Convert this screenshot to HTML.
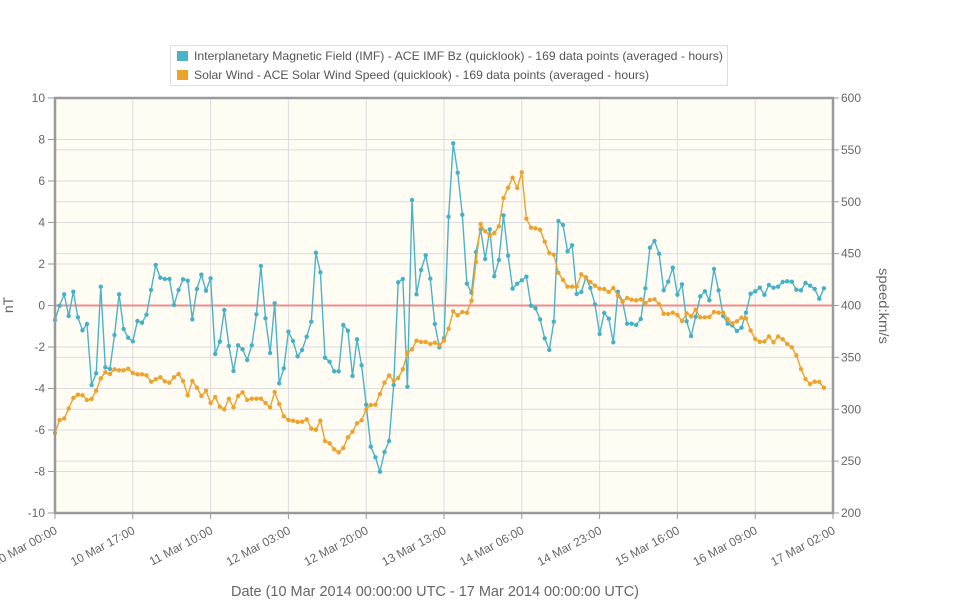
<!DOCTYPE html>
<html><head><meta charset="utf-8"><style>
html,body{margin:0;padding:0;background:#fff;}
svg{display:block;}
text{font-family:"Liberation Sans",sans-serif;}
</style></head><body>
<svg width="970" height="600" viewBox="0 0 970 600" xmlns="http://www.w3.org/2000/svg">
<defs>
<marker id="mb" markerUnits="userSpaceOnUse" markerWidth="6" markerHeight="6" refX="3" refY="3"><circle cx="3" cy="3" r="2.2" fill="#45b0c6"/></marker>
<marker id="mo" markerUnits="userSpaceOnUse" markerWidth="6" markerHeight="6" refX="3" refY="3"><circle cx="3" cy="3" r="2.2" fill="#eca22b"/></marker>
</defs>
<rect x="0" y="0" width="970" height="600" fill="#fff"/>
<!-- plot background -->
<rect x="55" y="98" width="778" height="415" fill="#fffcf4"/>
<!-- grid -->
<g stroke="#dcdcdc" stroke-width="1">
<path d="M55 139.5H833M55 181H833M55 222.5H833M55 264H833M55 347H833M55 388.5H833M55 430H833M55 471.5H833"/>
<path d="M55 461.1H833M55 409.25H833M55 357.4H833M55 253.6H833M55 201.75H833M55 149.9H833"/>
<path d="M132.8 98V513M210.6 98V513M288.4 98V513M366.2 98V513M444 98V513M521.8 98V513M599.6 98V513M677.4 98V513M755.2 98V513"/>
</g>
<!-- zero line -->
<line x1="55" y1="305.5" x2="833" y2="305.5" stroke="#f08c8c" stroke-width="2"/>
<!-- IMF series -->
<polyline fill="none" stroke="#4cb3c7" stroke-width="1.4" stroke-linejoin="round" marker-start="url(#mb)" marker-mid="url(#mb)" marker-end="url(#mb)" points="55,320 59.6,305.7 64.2,294.3 68.7,316 73.3,291.7 77.9,317.3 82.5,330.3 87,324 91.6,385 96.2,373.3 100.8,286.7 105.3,367.3 109.9,369 114.5,335 119.1,294.3 123.6,329 128.2,337.7 132.8,341.3 137.4,321 142,322.7 146.5,314.7 151.1,290 155.7,265 160.3,277.7 164.8,279 169.4,279 174,305 178.6,290 183.1,279.3 187.7,280.7 192.3,319.3 196.9,289 201.4,274.7 206,290.7 210.6,278.3 215.2,354 219.8,341.7 224.3,310 228.9,346 233.5,371 238.1,345.3 242.6,349.3 247.2,360 251.8,345.3 256.4,314.3 260.9,266 265.5,318.3 270.1,353 274.7,303.3 279.2,383.3 283.8,368.3 288.4,331.7 293,341 297.6,356.3 302.1,350 306.7,336.7 311.3,321.7 315.9,252.7 320.4,272.3 325,357.7 329.6,361.7 334.2,371.3 338.7,371.3 343.3,325 347.9,330.7 352.5,376 357,339.3 361.6,365.3 366.2,404.7 370.8,446.7 375.4,457.3 379.9,471.7 384.5,452 389.1,441 393.7,385 398.2,282.3 402.8,279 407.4,386.7 412,200 416.5,294.3 421.1,270 425.7,255.3 430.3,278.7 434.8,324 439.4,347.3 444,338.3 448.6,216.7 453.2,143.3 457.7,172.7 462.3,214.7 466.9,283.7 471.5,292.7 476,252 480.6,229.3 485.2,259 489.8,229.3 494.3,276.3 498.9,260 503.5,215.3 508.1,255.7 512.6,288.7 517.2,283.7 521.8,280.3 526.4,276.7 531,305.7 535.5,308.3 540.1,319.3 544.7,338.3 549.3,350 553.8,321.7 558.4,221 563,225 567.6,251.3 572.1,245.3 576.7,294 581.3,292 585.9,277.3 590.4,288 595,304.3 599.6,334 604.2,313 608.8,318.7 613.3,342.3 617.9,291.7 622.5,301.3 627.1,323.7 631.6,323.7 636.2,325 640.8,319 645.4,288.3 649.9,247.7 654.5,241 659.1,253.7 663.7,290.3 668.2,281.7 672.8,267.7 677.4,294.7 682,284.3 686.6,321.3 691.1,336 695.7,316.7 700.3,296.3 704.9,291.3 709.4,300.3 714,269 718.6,290.3 723.2,316 727.7,323.7 732.3,325.3 736.9,331 741.5,327.7 746,312.7 750.6,293.7 755.2,291.3 759.8,287.7 764.4,294.7 768.9,285 773.5,287.7 778.1,286.7 782.7,282 787.2,281.3 791.8,281.7 796.4,289.7 801,290.3 805.5,283 810.1,285.7 814.7,289 819.3,298.7 823.9,288.3"/>
<!-- Solar wind series -->
<polyline fill="none" stroke="#eca22b" stroke-width="1.4" stroke-linejoin="round" marker-start="url(#mo)" marker-mid="url(#mo)" marker-end="url(#mo)" points="55,433 59.6,420 64.2,418.5 68.7,408.5 73.3,398 77.9,394.7 82.5,395.3 87,400 91.6,399 96.2,390.7 100.8,378.3 105.3,372.3 109.9,374 114.5,369.3 119.1,370.3 123.6,370.3 128.2,368.7 132.8,373 137.4,374.3 142,374.3 146.5,375.3 151.1,381.7 155.7,379.3 160.3,377.3 164.8,381.3 169.4,382.7 174,377.3 178.6,374 183.1,381 187.7,395.3 192.3,381 196.9,387.7 201.4,396 206,390.7 210.6,403 215.2,397 219.8,406.7 224.3,409.3 228.9,398.7 233.5,407.3 238.1,396 242.6,392.3 247.2,400 251.8,398.7 256.4,398.7 260.9,398.7 265.5,403 270.1,407.3 274.7,392 279.2,404 283.8,416.3 288.4,420 293,420.7 297.6,422 302.1,421.7 306.7,419.3 311.3,428.7 315.9,429.7 320.4,420.7 325,441 329.6,443.3 334.2,449.3 338.7,452.3 343.3,448 347.9,437.3 352.5,431.7 357,423.3 361.6,420.3 366.2,409.3 370.8,405 375.4,404.7 379.9,394 384.5,382.7 389.1,375.5 393.7,380.7 398.2,378 402.8,369.3 407.4,352.7 412,349.3 416.5,340.7 421.1,342 425.7,342 430.3,344 434.8,342.7 439.4,345 444,340.7 448.6,328.7 453.2,311.3 457.7,315.3 462.3,312 466.9,312.7 471.5,300.7 476,262 480.6,224 485.2,231.3 489.8,235.3 494.3,233 498.9,226.3 503.5,198 508.1,187.7 512.6,177.7 517.2,188 521.8,172.3 526.4,218.7 531,227.7 535.5,228.3 540.1,229.7 544.7,241.7 549.3,253 553.8,254.7 558.4,272.7 563,280 567.6,286.7 572.1,286.7 576.7,286.7 581.3,274.3 585.9,277.8 590.4,282 595,285.7 599.6,288.7 604.2,289 608.8,292 613.3,288 617.9,295.7 622.5,301.7 627.1,298 631.6,299.7 636.2,300.3 640.8,299.3 645.4,303 649.9,300 654.5,299.3 659.1,304.3 663.7,313.7 668.2,314 672.8,312.7 677.4,315 682,321 686.6,313.3 691.1,316.3 695.7,309.7 700.3,317.3 704.9,317.3 709.4,317 714,312 718.6,312.7 723.2,312.7 727.7,319.3 732.3,323.3 736.9,321.3 741.5,317.7 746,318.3 750.6,330.5 755.2,339 759.8,341.8 764.4,341.5 768.9,336.5 773.5,342.3 778.1,336.5 782.7,339.3 787.2,344 791.8,347.3 796.4,355.3 801,369 805.5,379 810.1,384 814.7,381.7 819.3,382 823.9,387.7"/>
<!-- frame -->
<rect x="55" y="98" width="778" height="415" fill="none" stroke="#9a9a9a" stroke-width="2.5"/>
<!-- ticks -->
<g stroke="#9a9a9a" stroke-width="1">
<path d="M48 98H55M48 139.5H55M48 181H55M48 222.5H55M48 264H55M48 305.5H55M48 347H55M48 388.5H55M48 430H55M48 471.5H55M48 513H55"/>
<path d="M833 98H839M833 149.9H839M833 201.75H839M833 253.6H839M833 305.5H839M833 357.4H839M833 409.25H839M833 461.1H839M833 513H839"/>
<path d="M55 513V519M132.8 513V519M210.6 513V519M288.4 513V519M366.2 513V519M444 513V519M521.8 513V519M599.6 513V519M677.4 513V519M755.2 513V519M833 513V519"/>
</g>
<!-- left labels -->
<g font-size="12" fill="#666" text-anchor="end">
<text x="45" y="102">10</text>
<text x="45" y="143.5">8</text>
<text x="45" y="185">6</text>
<text x="45" y="226.5">4</text>
<text x="45" y="268">2</text>
<text x="45" y="309.5">0</text>
<text x="45" y="351">-2</text>
<text x="45" y="392.5">-4</text>
<text x="45" y="434">-6</text>
<text x="45" y="475.5">-8</text>
<text x="45" y="517">-10</text>
</g>
<!-- right labels -->
<g font-size="12" fill="#666" text-anchor="start">
<text x="841" y="102">600</text>
<text x="841" y="153.9">550</text>
<text x="841" y="205.75">500</text>
<text x="841" y="257.6">450</text>
<text x="841" y="309.5">400</text>
<text x="841" y="361.4">350</text>
<text x="841" y="413.25">300</text>
<text x="841" y="465.1">250</text>
<text x="841" y="517">200</text>
</g>
<!-- axis titles -->
<text transform="translate(13,305) rotate(-90)" font-size="14" fill="#666" text-anchor="middle">nT</text>
<text transform="translate(879,306) rotate(90)" font-size="14" fill="#666" text-anchor="middle" textLength="76" lengthAdjust="spacingAndGlyphs">speed:km/s</text>
<!-- x labels -->
<g font-size="12" fill="#666" text-anchor="end">
<text transform="translate(58,533) rotate(-28)">10 Mar 00:00</text>
<text transform="translate(135.8,533) rotate(-28)">10 Mar 17:00</text>
<text transform="translate(213.6,533) rotate(-28)">11 Mar 10:00</text>
<text transform="translate(291.4,533) rotate(-28)">12 Mar 03:00</text>
<text transform="translate(369.2,533) rotate(-28)">12 Mar 20:00</text>
<text transform="translate(447,533) rotate(-28)">13 Mar 13:00</text>
<text transform="translate(524.8,533) rotate(-28)">14 Mar 06:00</text>
<text transform="translate(602.6,533) rotate(-28)">14 Mar 23:00</text>
<text transform="translate(680.4,533) rotate(-28)">15 Mar 16:00</text>
<text transform="translate(758.2,533) rotate(-28)">16 Mar 09:00</text>
<text transform="translate(836,533) rotate(-28)">17 Mar 02:00</text>
</g>
<text x="231" y="596" font-size="15" fill="#666" textLength="408" lengthAdjust="spacingAndGlyphs">Date (10 Mar 2014 00:00:00 UTC - 17 Mar 2014 00:00:00 UTC)</text>
<!-- legend -->
<rect x="170.5" y="45.5" width="557" height="40" fill="#fff" stroke="#dddddd" stroke-width="1"/>
<rect x="177" y="51" width="11" height="10" fill="#4cb3c7"/>
<rect x="177" y="70" width="11" height="10" fill="#eca22b"/>
<text x="194" y="60" font-size="12" fill="#555" textLength="529" lengthAdjust="spacingAndGlyphs">Interplanetary Magnetic Field (IMF) - ACE IMF Bz (quicklook) - 169 data points (averaged - hours)</text>
<text x="194" y="79" font-size="12" fill="#555" textLength="455" lengthAdjust="spacingAndGlyphs">Solar Wind - ACE Solar Wind Speed (quicklook) - 169 data points (averaged - hours)</text>
</svg>
</body></html>
